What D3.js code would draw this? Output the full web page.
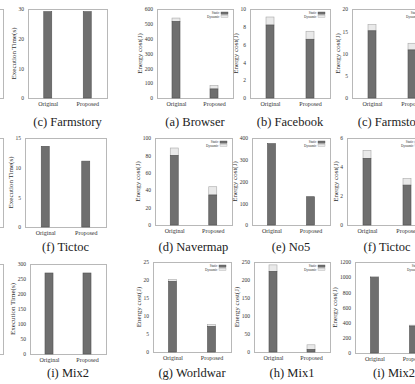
<!DOCTYPE html>
<html>
<head>
<meta charset="utf-8">
<script src="https://cdn.jsdelivr.net/npm/d3@7/dist/d3.min.js"></script>
<style>
  html, body { margin: 0; padding: 0; background: #fff; }
  svg { display: block; }
</style>
</head>
<body>
<div id="chart"></div>
<script>
// ---- data ----
var categories = ["Original", "Proposed"];

// execution time panels (left column)
var execTitles = ["(c) Farmstory", "(f) Tictoc", "(i) Mix2"];
var execTimes = [[29.1, 29.1], [13.6, 11.1], [270, 270]];
var execTicks = [[0, 10, 20, 30], [0, 5, 10, 15], [0, 50, 100, 150, 200, 250, 300]];

// energy panels (three right columns, row by row)
var energyTitles = ["(a) Browser", "(b) Facebook", "(c) Farmstory",
                    "(d) Navermap", "(e) No5", "(f) Tictoc",
                    "(g) Worldwar", "(h) Mix1", "(i) Mix2"];
var staticEnergy = [[516, 61], [8.2, 6.6], [15.1, 10.8],
                    [80, 34.5], [374, 130], [4.6, 2.75],
                    [19.6, 7.1], [224, 7], [995, 355]];
var dynamicEnergy = [[23, 22], [0.9, 0.9], [1.4, 1.5],
                     [8.5, 9.5], [0, 0], [0.55, 0.45],
                     [0.5, 0.5], [18, 13], [12, 12]];
var energyTicks = [[0, 100, 200, 300, 400, 500, 600], [0, 2, 4, 6, 8, 10], [0, 5, 10, 15, 20],
                   [0, 20, 40, 60, 80, 100], [0, 100, 200, 300, 400], [0, 2, 4, 6],
                   [0, 5, 10, 15, 20, 25], [0, 50, 100, 150, 200, 250], [0, 200, 400, 600, 800, 1000, 1200]];
var legendLabels = ["Static", "Dynamic"];

// ---- layout (plot boxes: left, right, top, bottom) ----
var execBoxes = [[28, 107, 9, 98], [25, 106, 138, 227], [30, 106, 264, 354]];
var energyBoxes = [[157, 233, 9, 98], [250, 330, 9, 98], [352, 432, 9, 98],
                   [155, 232, 138, 225], [252, 330, 138, 225], [347, 427, 138, 225],
                   [153, 231, 262, 352], [254, 330, 262, 352], [355, 433, 262, 353]];
var titleBase = [126, 251, 377];

var SERIF = "'Liberation Serif', 'Times New Roman', 'DejaVu Serif', serif";
var STATIC_FILL = "#6f6f6f", STATIC_LINE = "#505050";
var DYN_FILL = "#e9e9e9", DYN_LINE = "#a8a8a8";
var BOX = "#b8b8b8", INK = "#333";
var BAR_W = 8;

var svg = d3.select("#chart").append("svg")
  .attr("width", 415).attr("height", 384)
  .attr("font-family", SERIF);

// the cut-off panel on the far left edge
[[9, 98], [138, 227], [264, 354]].forEach(function (r) {
  svg.append("rect")
    .attr("x", -100).attr("y", r[0] + 0.5).attr("width", 103.5).attr("height", r[1] - r[0])
    .attr("fill", "none").attr("stroke", BOX);
});

function panel(box, ticks, yLabel, title, row) {
  var x0 = box[0], x1 = box[1], y0 = box[2], y1 = box[3];
  var g = svg.append("g");

  var x = d3.scalePoint().domain(categories).range([x0, x1]).padding(0.5);
  var y = d3.scaleLinear().domain([0, ticks[ticks.length - 1]]).range([y1, y0]);

  g.append("rect")
    .attr("x", x0 + 0.5).attr("y", y0 + 0.5)
    .attr("width", x1 - x0).attr("height", y1 - y0)
    .attr("fill", "none").attr("stroke", BOX);

  var ya = g.append("g")
    .attr("transform", "translate(" + x0 + ",0)")
    .call(d3.axisLeft(y).tickValues(ticks).tickSize(0).tickPadding(4).tickFormat(d3.format("d")));
  ya.select(".domain").remove();
  ya.attr("font-family", SERIF);
  ya.selectAll("text").attr("font-size", 5.5).attr("fill", INK);

  var xa = g.append("g")
    .attr("transform", "translate(0," + y1 + ")")
    .call(d3.axisBottom(x).tickSize(0).tickPadding(4));
  xa.select(".domain").remove();
  xa.attr("font-family", SERIF);
  xa.selectAll("text").attr("font-size", 6).attr("fill", INK);

  // axis title sits just clear of the widest tick label
  var widest = d3.max(ticks, function (t) { return String(t).length; });
  g.append("text")
    .attr("transform", "translate(" + (x0 - 6 - 3 * widest) + "," + ((y0 + y1) / 2) + ") rotate(-90)")
    .attr("text-anchor", "middle")
    .attr("font-size", 7).attr("fill", INK)
    .text(yLabel);

  g.append("text")
    .attr("x", (x0 + x1) / 2).attr("y", titleBase[row])
    .attr("text-anchor", "middle")
    .attr("font-size", 12.5).attr("fill", "#222")
    .text(title);

  return { g: g, x: x, y: y, box: box };
}

// execution time panels
execTitles.forEach(function (t, i) {
  var p = panel(execBoxes[i], execTicks[i], "Execution Time(s)", t, i);
  p.g.selectAll("rect.bar")
    .data(execTimes[i])
    .join("rect")
    .attr("class", "bar")
    .attr("x", function (d, j) { return p.x(categories[j]) - BAR_W / 2; })
    .attr("y", function (d) { return p.y(d); })
    .attr("width", BAR_W)
    .attr("height", function (d) { return p.y(0) - p.y(d); })
    .attr("fill", STATIC_FILL).attr("stroke", STATIC_LINE).attr("stroke-width", 0.6);
});

// energy panels (stacked static + dynamic)
energyTitles.forEach(function (t, i) {
  var p = panel(energyBoxes[i], energyTicks[i], "Energy cost(J)", t, Math.floor(i / 3));
  var rows = categories.map(function (c, j) {
    return { cat: c, s: staticEnergy[i][j], d: dynamicEnergy[i][j] };
  });

  p.g.selectAll("rect.dyn")
    .data(rows.filter(function (r) { return r.d > 0; }))
    .join("rect")
    .attr("class", "dyn")
    .attr("x", function (r) { return p.x(r.cat) - BAR_W / 2; })
    .attr("y", function (r) { return p.y(r.s + r.d); })
    .attr("width", BAR_W)
    .attr("height", function (r) { return p.y(r.s) - p.y(r.s + r.d); })
    .attr("fill", DYN_FILL).attr("stroke", DYN_LINE).attr("stroke-width", 0.6);

  p.g.selectAll("rect.sta")
    .data(rows)
    .join("rect")
    .attr("class", "sta")
    .attr("x", function (r) { return p.x(r.cat) - BAR_W / 2; })
    .attr("y", function (r) { return p.y(r.s); })
    .attr("width", BAR_W)
    .attr("height", function (r) { return p.y(0) - p.y(r.s); })
    .attr("fill", STATIC_FILL).attr("stroke", STATIC_LINE).attr("stroke-width", 0.6);

  // legend, top right inside the box
  var lx = p.box[1] - 5, ly = p.box[2] + 3;
  var leg = p.g.append("g");
  legendLabels.forEach(function (lab, k) {
    leg.append("rect")
      .attr("x", lx - 7).attr("y", ly + k * 3.2)
      .attr("width", 7).attr("height", 2.2)
      .attr("fill", k === 0 ? STATIC_FILL : DYN_FILL)
      .attr("stroke", k === 0 ? STATIC_LINE : DYN_LINE).attr("stroke-width", 0.4);
    leg.append("text")
      .attr("x", lx - 8.5).attr("y", ly + k * 3.2 + 2.3)
      .attr("text-anchor", "end")
      .attr("font-size", 3.4).attr("fill", INK)
      .text(lab);
  });
});
</script>
</body>
</html>
